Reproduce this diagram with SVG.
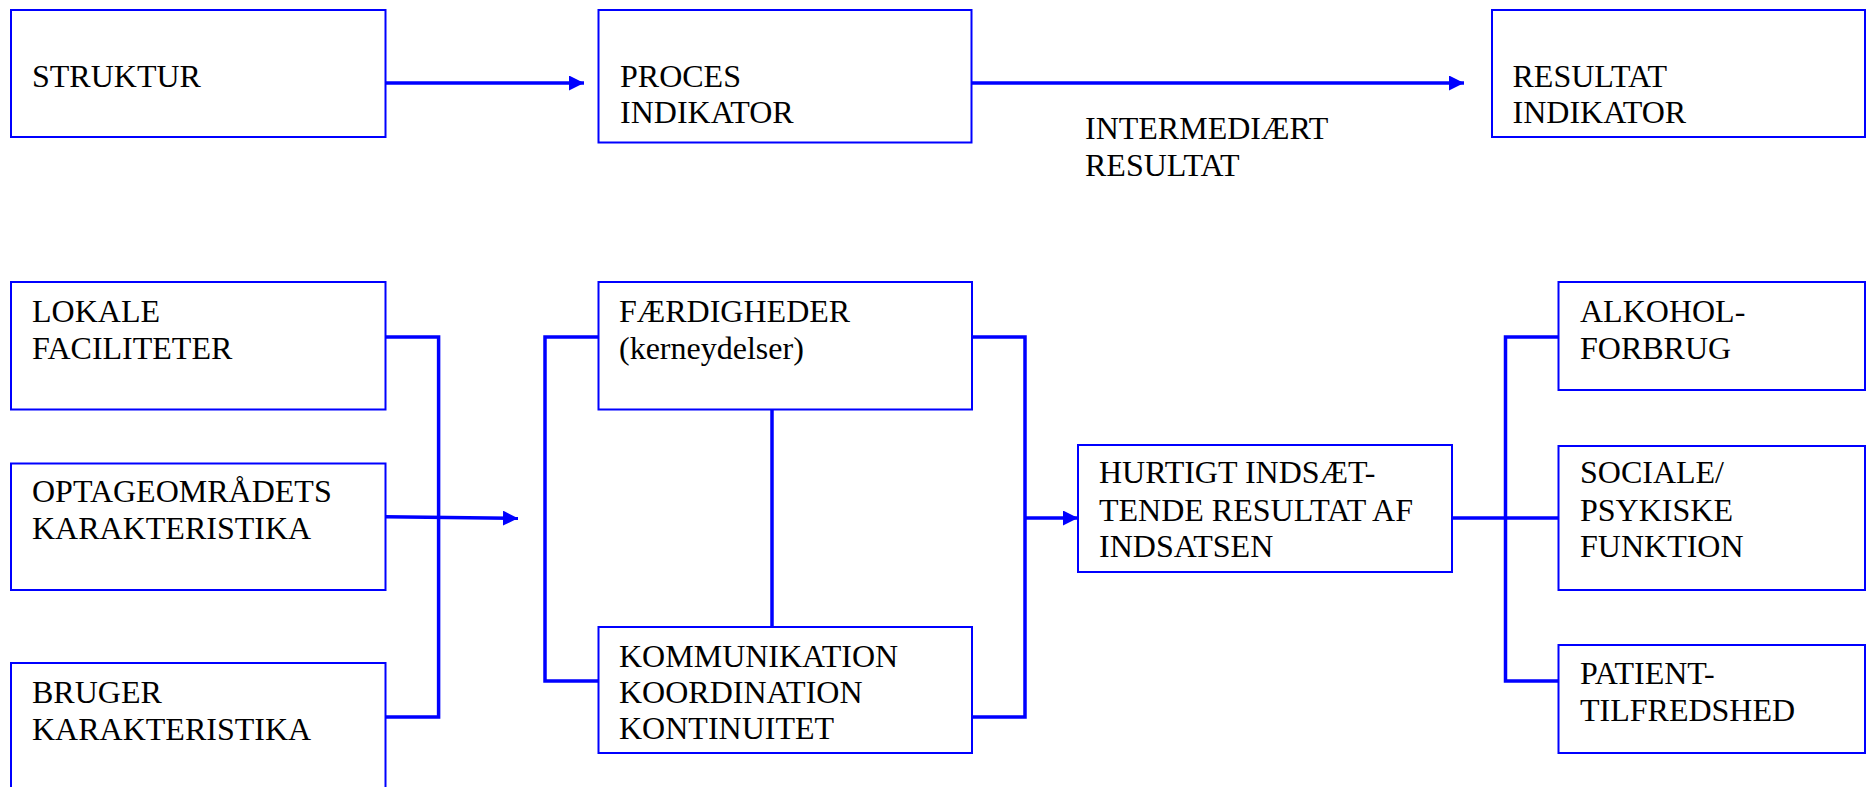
<svg xmlns="http://www.w3.org/2000/svg" width="1868" height="787" viewBox="0 0 1868 787">
<style>
.box{fill:#fff;stroke:#0000ff;stroke-width:2}
text{font-family:'Liberation Serif','Times New Roman',serif;font-size:32px;fill:#000}
.c{fill:none;stroke:#0000ff;stroke-width:3.5}
</style>
<defs>
<marker id="ah" markerUnits="userSpaceOnUse" markerWidth="16" markerHeight="16" refX="15" refY="7.5" orient="auto">
<path d="M0,0 L15,7.5 L0,15 z" fill="#0000ff"/>
</marker>
</defs>
<rect width="1868" height="787" fill="#fff"/>
<g id="connectors">
<line class="c" x1="385.5" y1="83" x2="584" y2="83" marker-end="url(#ah)"/>
<line class="c" x1="972" y1="83" x2="1464" y2="83" marker-end="url(#ah)"/>
<polyline class="c" points="385.5,337 438.6,337 438.6,717 385.5,717"/>
<line class="c" x1="385.5" y1="516.7" x2="518" y2="518.3" marker-end="url(#ah)"/>
<polyline class="c" points="598,337 545,337 545,681 598,681"/>
<line class="c" x1="772" y1="409" x2="772" y2="627"/>
<polyline class="c" points="972,337 1025,337 1025,717 972,717"/>
<line class="c" x1="1025" y1="518" x2="1078" y2="518" marker-end="url(#ah)"/>
<line class="c" x1="1452" y1="518" x2="1558" y2="518"/>
<polyline class="c" points="1558,337 1505.5,337 1505.5,681 1558,681"/>
</g>
<g id="struktur"><rect class="box" x="11" y="10" width="374.5" height="127"/><text x="32" y="87">STRUKTUR</text></g>
<g id="proces"><rect class="box" x="598.5" y="10" width="373" height="132.5"/><text x="620" y="87">PROCES</text><text x="620" y="123">INDIKATOR</text></g>
<g id="intermediaert"><text x="1085" y="139">INTERMEDIÆRT</text><text x="1085" y="176">RESULTAT</text></g>
<g id="resultat"><rect class="box" x="1492" y="10" width="373" height="127"/><text x="1512.5" y="87">RESULTAT</text><text x="1512.5" y="123">INDIKATOR</text></g>
<g id="lokale"><rect class="box" x="11" y="282" width="374.5" height="127.5"/><text x="32" y="322">LOKALE</text><text x="32" y="359">FACILITETER</text></g>
<g id="optage"><rect class="box" x="11" y="463.5" width="374.5" height="126.5"/><text x="32" y="502">OPTAGEOMRÅDETS</text><text x="32" y="539">KARAKTERISTIKA</text></g>
<g id="bruger"><rect class="box" x="11" y="663" width="374.5" height="130"/><text x="32" y="703">BRUGER</text><text x="32" y="740">KARAKTERISTIKA</text></g>
<g id="faerdigheder"><rect class="box" x="598.5" y="282" width="373.5" height="127.5"/><text x="619" y="322">FÆRDIGHEDER</text><text x="619" y="359">(kerneydelser)</text></g>
<g id="kommunikation"><rect class="box" x="598.5" y="627" width="373.5" height="126"/><text x="619" y="667">KOMMUNIKATION</text><text x="619" y="703">KOORDINATION</text><text x="619" y="739">KONTINUITET</text></g>
<g id="hurtigt"><rect class="box" x="1078" y="445" width="374" height="127"/><text x="1099" y="483">HURTIGT INDSÆT-</text><text x="1099" y="521">TENDE RESULTAT AF</text><text x="1099" y="557">INDSATSEN</text></g>
<g id="alkohol"><rect class="box" x="1558.5" y="282" width="306.5" height="108"/><text x="1580" y="322">ALKOHOL-</text><text x="1580" y="359">FORBRUG</text></g>
<g id="sociale"><rect class="box" x="1558.5" y="446" width="306.5" height="144"/><text x="1580" y="483">SOCIALE/</text><text x="1580" y="521">PSYKISKE</text><text x="1580" y="557">FUNKTION</text></g>
<g id="patient"><rect class="box" x="1558.5" y="645" width="306.5" height="108"/><text x="1580" y="684">PATIENT-</text><text x="1580" y="721">TILFREDSHED</text></g>
</svg>
